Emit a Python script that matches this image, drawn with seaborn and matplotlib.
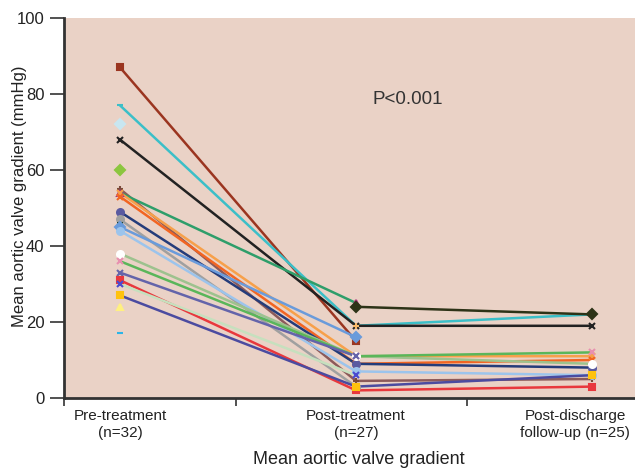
import numpy as np
import pandas as pd
import matplotlib
matplotlib.use("Agg")
import matplotlib.pyplot as plt
import matplotlib.transforms as mtransforms
import seaborn as sns

nan = np.nan

# ---- data ----
categories = ["Pre-treatment\n(n=32)", "Post-treatment\n(n=27)", "Post-discharge\nfollow-up (n=25)"]
pre_values = [87, 77, 72, 68, 60, 55, 54, 54, 53, 49, 47, 46, 45, 44, 38, 36, 33, 31, 30, 27, 24, 17, nan, nan]
post_values = [15, 19, nan, 19, nan, 4.5, 25, 11, 9, 9, 3, nan, 16, 7, 11, 11, 11, 2, 6, 3, nan, nan, 24, 19]
followup_values = [nan, 22, nan, 19, nan, 5, nan, 11, 10, 8, nan, nan, nan, 6, 9, 12, nan, 3, nan, 6, nan, nan, 22, nan]
p_text = "P<0.001"

# ---- styles ----
line_colors = ["#9B3520", "#3BBFC8", "#C8E6F0", "#222222", "#8CC63F", "#8C5A5A", "#2E9E6A",
               "#F7A04A", "#F26522", "#253C7A", "#A0A0A0", "#1F3D1F", "#6A9BDB", "#9CC4EC",
               "#9DC28E", "#5AB65A", "#6464AA", "#E8383D", "#C6E0BE", "#4B4BA0", "#FFF080",
               "#2BB5E8", "#2D3317", "#F7B86A"]
marker_colors = ["#9B3520", "#3BBFC8", "#C8E6F0", "#222222", "#8CC63F", "#7A4A3A", "#A8327A",
                 "#F7A04A", "#F26522", "#5A5AA0", "#A0A0A0", "#1F3D1F", "#6A9BDB", "#9CC4EC",
                 "#FFFFFF", "#E890B0", "#6464AA", "#E8383D", "#4B4BD0", "#FFC20E", "#FFF080",
                 "#2BB5E8", "#2D3317", "#F7B86A"]
markers = ["s", "_", "D", "x", "D", "+", "^", "x", "x", "o", "o", "_", "D", "o",
           "o", "x", "x", "s", "x", "s", "^", "_", "D", "+"]

sns.set_theme(style="white")
plt.rcParams["font.family"] = ["Liberation Sans", "DejaVu Sans"]

fig = plt.figure(figsize=(6.35, 4.69), dpi=100)
ax = fig.add_axes([64 / 635, 71 / 469, 1 - 64 / 635, (398 - 18) / 469])
ax.set_facecolor("#EAD2C6")

xs = [0, 1, 2]
for i in range(len(pre_values)):
    ys = [pre_values[i], post_values[i], followup_values[i]]
    df = pd.DataFrame({"x": xs, "y": ys}).dropna()
    if len(df) > 1:
        sns.lineplot(data=df, x="x", y="y", color=line_colors[i], lw=1.8, ax=ax, zorder=2)
    ax.plot(df["x"], df["y"], ls="none", marker=markers[i], ms=5, mew=1.5,
            mfc=marker_colors[i], mec=marker_colors[i], zorder=3)

x0 = (64 - 120) / 236
x1 = (635 - 120) / 236
ax.set_xlim(x0, x1)
ax.set_ylim(0, 100)
ax.set_yticks([0, 20, 40, 60, 80, 100])
ax.set_xticks(xs)
ax.set_xticklabels(categories)
ax.set_xticks([x0, 0.49, 1.47], minor=True)
ax.tick_params(axis="x", which="major", length=0, pad=8)
ax.tick_params(axis="x", which="minor", length=6, width=1.2, color="#333333", direction="out", bottom=True)
ax.tick_params(axis="y", length=10, width=1.2, color="#333333", direction="out", left=True, pad=4)
for lab in ax.get_yticklabels():
    lab.set_fontsize(12)
    lab.set_color("#222222")
xlabs = ax.get_xticklabels()
for lab in xlabs:
    lab.set_fontsize(11)
    lab.set_color("#222222")
    lab.set_linespacing(1.25)
xlabs[2].set_transform(xlabs[2].get_transform() +
                       mtransforms.ScaledTranslation(-17 / 100, 0, fig.dpi_scale_trans))

for s in ["top", "right"]:
    ax.spines[s].set_visible(False)
for s in ["left", "bottom"]:
    ax.spines[s].set_color("#333333")
    ax.spines[s].set_linewidth(2)

ax.set_xlabel("Mean aortic valve gradient", fontsize=13, color="#222222")
ax.xaxis.set_label_coords((359 - 64) / 571, -0.14)
ax.set_ylabel("Mean aortic valve gradient (mmHg)", fontsize=12, color="#222222")
ax.yaxis.set_label_coords((27 - 64) / 571, (398 - 196) / 380)
ax.text((372 - 120) / 236, 78.5, p_text, fontsize=13.5, color="#333333",
        va="center", ha="left")

fig.savefig("out.png", dpi=100)
